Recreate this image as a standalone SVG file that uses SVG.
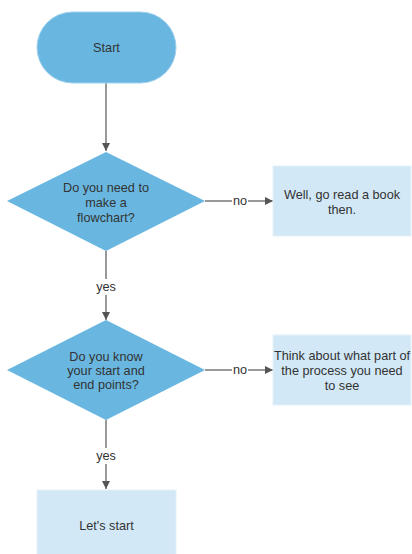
<svg xmlns="http://www.w3.org/2000/svg" width="412" height="554" viewBox="0 0 412 554">
<defs>
<marker id="arr" markerWidth="10" markerHeight="10" refX="9" refY="5" orient="auto" markerUnits="userSpaceOnUse">
<path d="M1,1 L9,5 L1,9 Z" fill="#555"/>
</marker>
<style>
.term{fill:#69b7e0;stroke:#9fd0ee;stroke-width:1}
.dec{fill:#69b7e0;stroke:none}
.proc{fill:#d2e8f6;stroke:#e3f1fa;stroke-width:1}
.t{font-family:"Liberation Sans",Arial,sans-serif;font-size:12.7px;fill:#333;text-anchor:middle}
.e{stroke:#999;stroke-width:2;fill:none;marker-end:url(#arr)}
.lbl{fill:#fff}
</style>
</defs>
<rect width="412" height="554" fill="#fff"/>
<g id="connectors">
<line class="e" x1="106" y1="83" x2="106" y2="151"/>
<line class="e" x1="205" y1="201" x2="273" y2="201"/>
<line class="e" x1="106" y1="251" x2="106" y2="320"/>
<line class="e" x1="205" y1="370" x2="273" y2="370"/>
<line class="e" x1="106" y1="420" x2="106" y2="489"/>
<rect class="lbl" x="232" y="193" width="16" height="15"/>
<text class="t" x="240" y="205">no</text>
<rect class="lbl" x="232" y="362" width="16" height="15"/>
<text class="t" x="240" y="374">no</text>
<rect class="lbl" x="94" y="279" width="24" height="16"/>
<text class="t" x="106" y="291">yes</text>
<rect class="lbl" x="94" y="448" width="24" height="16"/>
<text class="t" x="106" y="460">yes</text>
</g>
<g id="start">
<rect class="term" x="37" y="12" width="139" height="71" rx="35.5" ry="35.5"/>
<text class="t" x="106.5" y="52">Start</text>
</g>
<g id="decision1">
<polygon class="dec" points="106,152 205,201 106,251 7,201"/>
<text class="t" x="106" y="192">Do you need to</text>
<text class="t" x="106" y="207">make a</text>
<text class="t" x="106" y="222">flowchart?</text>
</g>
<g id="book">
<rect class="proc" x="273" y="166" width="138" height="70"/>
<text class="t" x="342" y="199">Well, go read a book</text>
<text class="t" x="342" y="214">then.</text>
</g>
<g id="decision2">
<polygon class="dec" points="106,320 205,370 106,420 7,370"/>
<text class="t" x="106" y="361">Do you know</text>
<text class="t" x="106" y="375">your start and</text>
<text class="t" x="106" y="389">end points?</text>
</g>
<g id="think">
<rect class="proc" x="273" y="335" width="138" height="70"/>
<text class="t" x="342" y="360">Think about what part of</text>
<text class="t" x="342" y="375">the process you need</text>
<text class="t" x="342" y="390">to see</text>
</g>
<g id="letsstart">
<rect class="proc" x="37" y="490" width="139" height="70"/>
<text class="t" x="106.5" y="530">Let's start</text>
</g>
</svg>
